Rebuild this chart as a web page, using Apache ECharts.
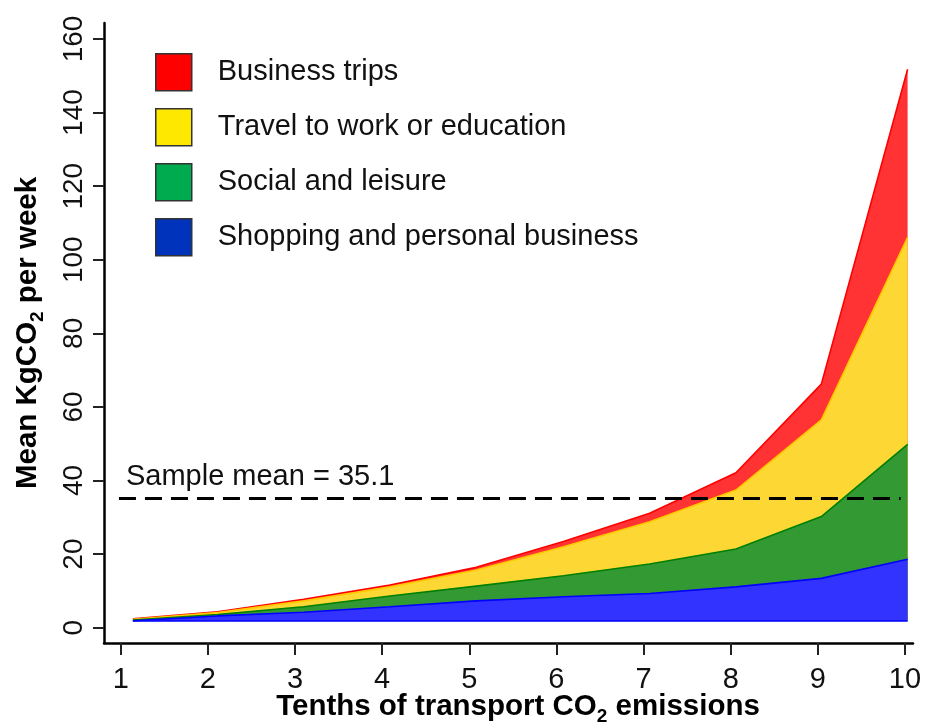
<!DOCTYPE html>
<html>
<head>
<meta charset="utf-8">
<script src="https://cdn.jsdelivr.net/npm/echarts@6/dist/echarts.min.js"></script>
<style>
html,body{margin:0;padding:0;background:#fff;}
#chart{width:933px;height:722px;}
</style>
</head>
<body>
<div id="chart"></div>
<script>
// ---- data ----
const decilePositions = [1.14, 2.11, 3.10, 4.09, 5.08, 6.08, 7.07, 8.06, 9.04, 10.03];
const xTickValues = [1, 2, 3, 4, 5, 6, 7, 8, 9, 10];
const xTickLabels = ['1','2','3','4','5','6','7','8','9','10'];
const yTickValues = [0, 20, 40, 60, 80, 100, 120, 140, 160];
const yTickLabels = ['0','20','40','60','80','100','120','140','160'];
const shopping = [1.9, 3.2, 4.2, 5.7, 7.3, 8.4, 9.3, 11.1, 13.4, 18.6];
const social   = [0.2, 0.4, 1.5, 2.9, 4.0, 5.7, 8.0, 10.3, 16.8, 31.2];
const commute  = [0.2, 0.5, 1.6, 2.5, 4.4, 7.9, 11.5, 16.0, 26.3, 56.3];
const business = [0.1, 0.25, 0.4, 0.5, 0.7, 1.4, 2.3, 4.7, 9.7, 45.7];
const areaBase = 1.8;
const sampleMean = 35.1;
const meanLineFrom = 0.98;
const meanLineTo = 9.95;

// axis extents (the plot region is padded beyond the tick range, Stata style)
const xMin = 0.8084, xMax = 10.0918;
const yMin = -4.159, yMax = 164.35;

const seriesNames = ['Shopping and personal business', 'Social and leisure', 'Travel to work or education', 'Business trips'];
const seriesValues = [shopping, social, commute, business];
const fillColors = ['#3333FF', '#339933', '#FDD835', '#FF3333'];
const lineColors = ['#0000FF', '#007F00', '#FFC800', '#FF0000'];
const keyColors  = ['#0033BB', '#00AA4F', '#FFE800', '#FF0000'];

const FONT = '"Liberation Sans", Arial, Helvetica, sans-serif';

// cumulative tops of each layer (layers drawn from the top down so lower ones overlay)
const cumulative = [];
seriesValues.forEach((vals, i) => {
  cumulative.push(vals.map((v, j) => v + (i > 0 ? cumulative[i - 1][j] : 0)));
});

const chart = echarts.init(document.getElementById('chart'), null, {renderer: 'canvas'});

const drawOrder = [3, 2, 1, 0];
const areaSeries = drawOrder.map((i, k) => ({
  name: seriesNames[i],
  type: 'line',
  clip: false,
  symbol: 'none',
  smooth: false,
  data: decilePositions.map((x, j) => [x, Math.round(cumulative[i][j] * 100) / 100]),
  lineStyle: {color: lineColors[i], width: 1.6},
  itemStyle: {color: fillColors[i]},
  areaStyle: {color: fillColors[i], opacity: 1, origin: areaBase},
  emphasis: {disabled: true},
  z: 2 + k * 0.01
}));

const baseSeries = {
  name: 'base',
  type: 'line',
  clip: false,
  symbol: 'none',
  data: [[decilePositions[0], areaBase], [decilePositions[decilePositions.length - 1], areaBase]],
  lineStyle: {color: lineColors[0], width: 1.6},
  emphasis: {disabled: true},
  z: 3
};

const meanSeries = {
  name: 'mean',
  type: 'line',
  clip: false,
  symbol: 'circle',
  symbolSize: 0,
  showSymbol: true,
  data: [
    {value: [meanLineFrom, sampleMean], label: {
      show: true, position: [7, -36], align: 'left', verticalAlign: 'top',
      formatter: 'Sample mean = ' + sampleMean, fontSize: 29, color: '#111', fontFamily: FONT
    }},
    {value: [meanLineTo, sampleMean]}
  ],
  lineStyle: {color: '#000', width: 3, type: [17, 9]},
  itemStyle: {color: '#000'},
  emphasis: {disabled: true},
  z: 5
};

const subRich = {
  a: {fontSize: 29.5, fontWeight: 'bold', color: '#000', fontFamily: FONT, lineHeight: 29, verticalAlign: 'top'},
  s: {fontSize: 19, fontWeight: 'bold', color: '#000', fontFamily: FONT, lineHeight: 19, verticalAlign: 'top', padding: [15, 0, 0, 0]}
};

const option = {
  backgroundColor: '#ffffff',
  animation: false,
  textStyle: {fontFamily: FONT},
  grid: {left: 104, top: 23, right: 20, bottom: 79, containLabel: false, outerBoundsMode: 'none'},
  legend: {
    left: 155, top: 53, padding: 0,
    orient: 'vertical',
    icon: 'rect',
    itemWidth: 36, itemHeight: 37, itemGap: 16.5,
    selectedMode: false,
    textStyle: {fontSize: 29, color: '#111', fontFamily: FONT, padding: [0, 0, 0, 21]},
    data: drawOrder.map(i => ({
      name: seriesNames[i],
      itemStyle: {color: keyColors[i], borderColor: '#333', borderWidth: 1.5}
    }))
  },
  xAxis: {
    type: 'value', min: xMin, max: xMax,
    axisLine: {show: true, onZero: false, lineStyle: {color: '#000', width: 2.5}},
    axisTick: {show: true, length: 12, customValues: xTickValues, lineStyle: {color: '#222', width: 2}},
    axisLabel: {show: true, margin: 22, fontSize: 29, color: '#111', fontFamily: FONT,
      customValues: xTickValues,
      formatter: v => xTickLabels[xTickValues.indexOf(Math.round(v))]},
    splitLine: {show: false},
    name: '{a|Tenths of transport CO}{s|2}{a| emissions}',
    nameLocation: 'middle', nameGap: 49, nameMoveOverlap: false,
    nameTextStyle: {padding: [0, 0, 0, 19], rich: subRich}
  },
  yAxis: {
    type: 'value', min: yMin, max: yMax,
    axisLine: {show: true, onZero: false, lineStyle: {color: '#000', width: 2.5}},
    axisTick: {show: true, length: 11, customValues: yTickValues, lineStyle: {color: '#222', width: 2}},
    axisLabel: {show: true, margin: 16, rotate: 90, fontSize: 28, color: '#111', fontFamily: FONT,
      customValues: yTickValues,
      formatter: v => yTickLabels[yTickValues.indexOf(Math.round(v))]},
    splitLine: {show: false},
    name: '{a|Mean KgCO}{s|2}{a| per week}',
    nameLocation: 'middle', nameGap: 62, nameRotate: 90, nameMoveOverlap: false,
    nameTextStyle: {rich: subRich}
  },
  series: areaSeries.concat([baseSeries, meanSeries])
};

chart.setOption(option);
</script>
</body>
</html>
